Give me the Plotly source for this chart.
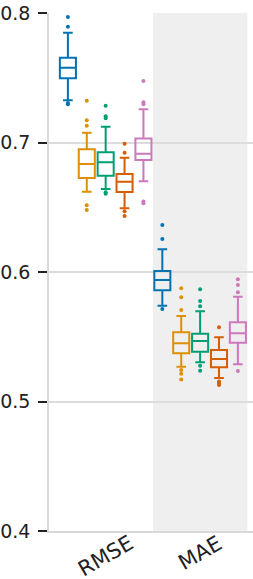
import plotly.graph_objects as go

categories = ["RMSE", "MAE"]
colors = ["#0173b2", "#de8f05", "#029e73", "#d55e00", "#cc78bc"]

# per model (5 models), per metric [RMSE, MAE]
q1 = [[0.7496, 0.5859], [0.6726, 0.5372], [0.6744, 0.5385], [0.6618, 0.5264], [0.6865, 0.5454]]
median = [[0.7578, 0.5938], [0.6834, 0.5449], [0.6847, 0.5467], [0.6697, 0.5328], [0.6914, 0.5527]]
q3 = [[0.7655, 0.6008], [0.6947, 0.5534], [0.6924, 0.5524], [0.6757, 0.5398], [0.7030, 0.5612]]
lower = [[0.7326, 0.5740], [0.6620, 0.5269], [0.6641, 0.5303], [0.6492, 0.5181], [0.6700, 0.5287]]
upper = [[0.7848, 0.6175], [0.7076, 0.5660], [0.7122, 0.5696], [0.6883, 0.5496], [0.7256, 0.5809]]
outliers = [
    [[0.7969, 0.7894, 0.7305, 0.7295], [0.6363, 0.6255, 0.5714]],
    [[0.7323, 0.7171, 0.7130, 0.6515, 0.6479], [0.5874, 0.5805, 0.5707, 0.5243, 0.5215, 0.5170]],
    [[0.7284, 0.7202, 0.7187, 0.6615, 0.6605], [0.5866, 0.5776, 0.5735, 0.5276, 0.5238]],
    [[0.6991, 0.6921, 0.6469, 0.6432], [0.5573, 0.5155, 0.5140, 0.5128]],
    [[0.7475, 0.7310, 0.7295, 0.6545, 0.6530], [0.5944, 0.5900, 0.5843, 0.5236]],
]
yticks = [0.4, 0.5, 0.6, 0.7, 0.8]

n = len(colors)
step = 0.2
bw = 0.17

fig = go.Figure()
for m in range(n):
    off = (m - (n - 1) / 2) * step
    xs = [g + off for g in range(len(categories))]
    fig.add_trace(go.Box(
        x=xs, q1=q1[m], median=median[m], q3=q3[m],
        lowerfence=lower[m], upperfence=upper[m],
        width=bw, whiskerwidth=0.6,
        line=dict(color=colors[m], width=2),
        fillcolor="rgba(0,0,0,0)", boxpoints=False,
        showlegend=False, hoverinfo="skip",
    ))
    ox, oy = [], []
    for g in range(len(categories)):
        for v in outliers[m][g]:
            ox.append(g + off)
            oy.append(v)
    fig.add_trace(go.Scatter(
        x=ox, y=oy, mode="markers",
        marker=dict(color=colors[m], size=4),
        showlegend=False, hoverinfo="skip",
    ))

fig.add_shape(type="rect", xref="x", yref="paper", x0=0.5, x1=1.5, y0=0, y1=1,
              fillcolor="#efefef", line=dict(width=0), layer="below")

for g, c in enumerate(categories):
    fig.add_annotation(x=g, y=0, xref="x", yref="paper", text=c, showarrow=False,
                       textangle=-30, xanchor="center", yanchor="top", yshift=3,
                       font=dict(size=21, color="#222222", family="DejaVu Sans"))

fig.update_layout(
    width=253, height=579,
    margin=dict(l=49, r=0, t=13, b=48, autoexpand=False),
    paper_bgcolor="white", plot_bgcolor="white",
    font=dict(family="DejaVu Sans", size=19, color="#222222"),
    showlegend=False,
)
fig.update_xaxes(range=[-0.6, 1.56], showticklabels=False, ticks="", showgrid=False,
                 zeroline=False, showline=True, linecolor="#d9d9d9", linewidth=1.5,
                 automargin=False)
fig.update_yaxes(range=[0.4, 0.8], tickvals=yticks, ticktext=[f"{v:.1f}" for v in yticks],
                 ticks="outside", ticklen=9, tickwidth=2, tickcolor="#222222",
                 showgrid=True, gridcolor="#dcdcdc", gridwidth=1.5, zeroline=False,
                 showline=True, linecolor="#d9d9d9", linewidth=1.5, ticklabelstandoff=4,
                 automargin=False)

fig.write_html("out.html", config={"displayModeBar": False},
               post_script="document.body.style.margin='0';document.body.style.overflow='hidden';")
